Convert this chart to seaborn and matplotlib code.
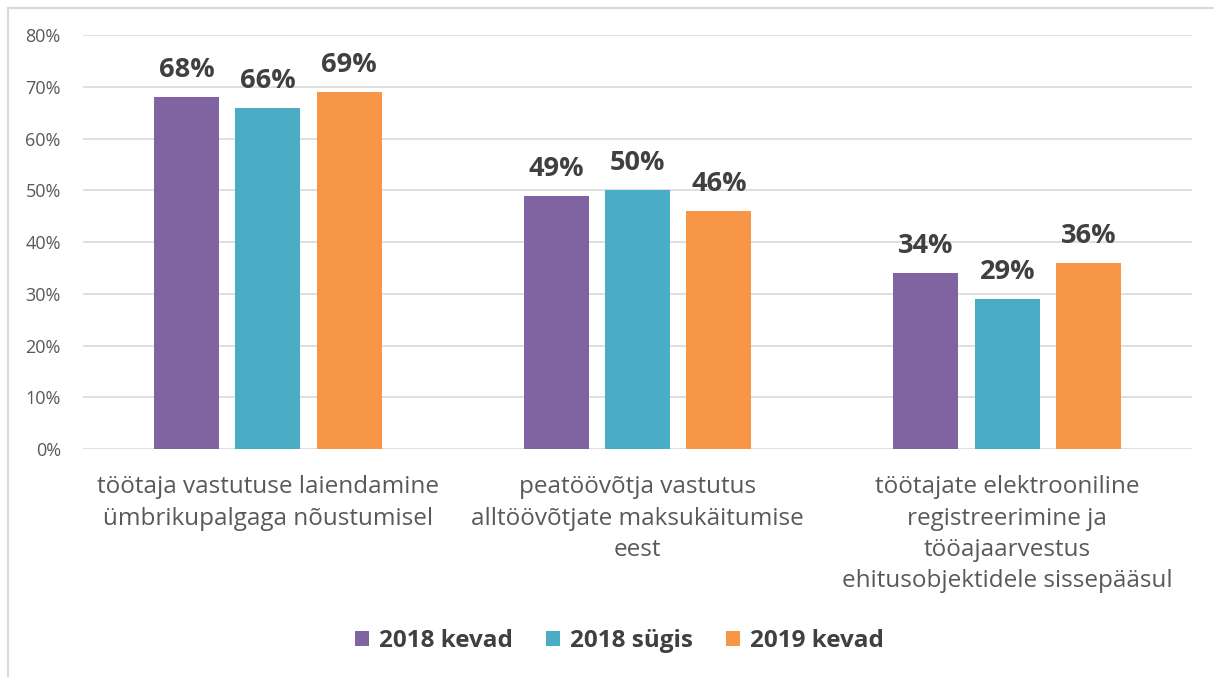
import pandas as pd
import seaborn as sns
import matplotlib.pyplot as plt
from matplotlib.patches import Rectangle

# andmed
categories = ['töötaja vastutuse laiendamine\nümbrikupalgaga nõustumisel',
              'peatöövõtja vastutus\nalltöövõtjate maksukäitumise\neest',
              'töötajate elektrooniline\nregistreerimine ja\ntööajaarvestus\nehitusobjektidele sissepääsul']
series = ['2018 kevad', '2018 sügis', '2019 kevad']
kevad_2018 = [68, 49, 34]
sygis_2018 = [66, 50, 29]
kevad_2019 = [69, 46, 36]
colors = ['#8064A2', '#4BACC6', '#F79646']

df = pd.DataFrame({
    'kategooria': categories * 3,
    'periood': [s for s in series for _ in categories],
    'vaartus': kevad_2018 + sygis_2018 + kevad_2019,
})

sns.set_style('white')
plt.rcParams['font.family'] = ['Open Sans', 'DejaVu Sans']

fig = plt.figure(figsize=(12.14, 6.77), dpi=100)
ax = fig.add_axes([0.0684, 0.3368, 0.9136, 0.6112])

sns.barplot(data=df, x='kategooria', y='vaartus', hue='periood', order=categories,
            hue_order=series, palette=colors, width=0.66, gap=0.2, ax=ax,
            saturation=1, linewidth=0, zorder=3)

for cont in ax.containers:
    ax.bar_label(cont, fmt='%d%%', padding=10, fontsize=19.5, fontweight='bold', color='#404040')

ax.set_ylim(0, 80)
ax.set_xlim(-0.5, 2.5)
ax.set_yticks(range(0, 81, 10))
ax.set_yticklabels([f'{v}%' for v in range(0, 81, 10)], fontsize=13, color='#595959')
ax.tick_params(axis='x', labelsize=17.5, labelcolor='#595959', pad=19, length=0)
ax.tick_params(axis='y', length=0, pad=16)
for lbl in ax.get_xticklabels():
    lbl.set_linespacing(1.4)
ax.set_xlabel('')
ax.set_ylabel('')
ax.grid(axis='y', color='#D9D9D9', linewidth=1.2, zorder=0)
sns.despine(ax=ax, left=True, bottom=True)

ax.legend(loc='center', bbox_to_anchor=(0.51, 0.053), bbox_transform=fig.transFigure, ncol=3,
          frameon=False, handlelength=0.6, handleheight=0.6, handletextpad=0.4,
          columnspacing=1.35, prop={'weight': 'bold', 'size': 17.5})
for t in ax.get_legend().get_texts():
    t.set_color('#404040')

# raam ümber diagrammi
fig.patches.append(Rectangle((0.0066, -0.05), 1.1, 1.038, transform=fig.transFigure,
                             fill=False, edgecolor='#D9D9D9', linewidth=1.5))

fig.savefig('out.png', dpi=100)
